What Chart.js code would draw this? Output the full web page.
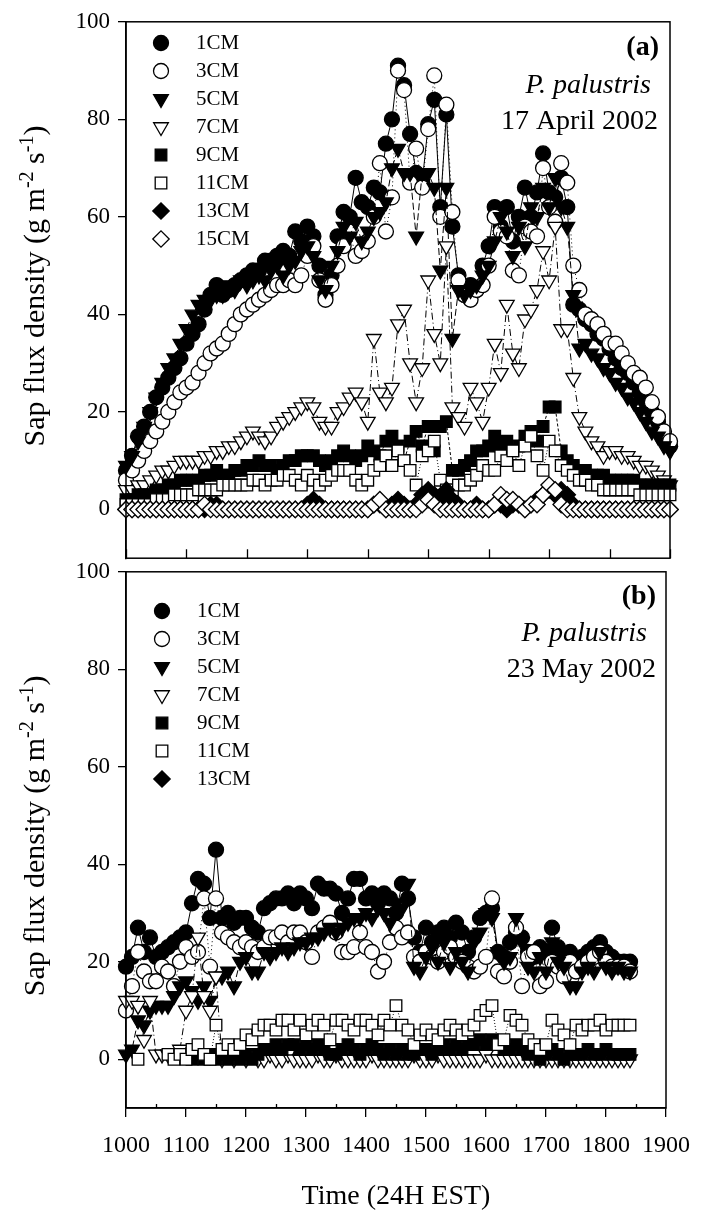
<!DOCTYPE html>
<html>
<head>
<meta charset="utf-8">
<script src="https://cdn.jsdelivr.net/npm/chart.js@4.4.1/dist/chart.umd.min.js"></script>
<style>
  html, body { margin: 0; padding: 0; background: #fff; }
  body { width: 704px; height: 1216px; position: relative; overflow: hidden; }
  canvas { position: absolute; left: 0; }
  #chartA { top: 0; }
  #chartB { top: 550px; }
</style>
</head>
<body>
<canvas id="chartA" width="704" height="580"></canvas>
<canvas id="chartB" width="704" height="666"></canvas>
<script>
// time stamps (24H EST)
const timesA = [
	1000, 1010, 1020, 1030, 1040, 1050, 1060, 1070, 1080, 1090,
	1100, 1110, 1120, 1130, 1140, 1150, 1160, 1170, 1180, 1190,
	1200, 1210, 1220, 1230, 1240, 1250, 1260, 1270, 1280, 1290,
	1300, 1310, 1320, 1330, 1340, 1350, 1360, 1370, 1380, 1390,
	1400, 1410, 1420, 1430, 1440, 1450, 1460, 1470, 1480, 1490,
	1500, 1510, 1520, 1530, 1540, 1550, 1560, 1570, 1580, 1590,
	1600, 1610, 1620, 1630, 1640, 1650, 1660, 1670, 1680, 1690,
	1700, 1710, 1720, 1730, 1740, 1750, 1760, 1770, 1780, 1790,
	1800, 1810, 1820, 1830, 1840, 1850, 1860, 1870, 1880, 1890,
	1900
];
const timesB = [
	1000, 1010, 1020, 1030, 1040, 1050, 1060, 1070, 1080, 1090,
	1100, 1110, 1120, 1130, 1140, 1150, 1160, 1170, 1180, 1190,
	1200, 1210, 1220, 1230, 1240, 1250, 1260, 1270, 1280, 1290,
	1300, 1310, 1320, 1330, 1340, 1350, 1360, 1370, 1380, 1390,
	1400, 1410, 1420, 1430, 1440, 1450, 1460, 1470, 1480, 1490,
	1500, 1510, 1520, 1530, 1540, 1550, 1560, 1570, 1580, 1590,
	1600, 1610, 1620, 1630, 1640, 1650, 1660, 1670, 1680, 1690,
	1700, 1710, 1720, 1730, 1740, 1750, 1760, 1770, 1780, 1790,
	1800, 1810, 1820, 1830, 1840
];
const xTicks = [1000, 1100, 1200, 1300, 1400, 1500, 1600, 1700, 1800, 1900];
const xMinor = [1050, 1150, 1250, 1350, 1450, 1550, 1650, 1750, 1850];
const yTicks = [0, 20, 40, 60, 80, 100];
const labelsA = ["1CM", "3CM", "5CM", "7CM", "9CM", "11CM", "13CM", "15CM"];
const labelsB = ["1CM", "3CM", "5CM", "7CM", "9CM", "11CM", "13CM"];

// (a) 17 April 2002
const a1 = [
	8, 11, 15, 17, 20, 23, 25, 27, 29, 31,
	34, 36, 38, 41, 44, 46, 44, 45, 46, 47,
	48, 49, 49, 51, 51, 52, 53, 52, 57, 55,
	58, 56, 50, 44, 48, 56, 61, 60, 68, 63,
	62, 66, 65, 75, 80, 91, 87, 77, 69, 67,
	79, 84, 62, 81, 58, 48, 44, 46, 45, 50,
	54, 62, 58, 62, 55, 60, 66, 60, 65, 73,
	65, 64, 68, 62, 42, 41, 39, 38, 36, 35,
	33, 31, 29, 28, 26, 24, 22, 20, 18, 15,
	13
];
const a3 = [
	6, 8, 10, 12, 14, 16, 18, 20, 22, 24,
	25, 26, 28, 30, 32, 33, 34, 36, 38, 40,
	41, 42, 43, 44, 45, 46, 46, 47, 46, 48,
	52, 54, 47, 43, 46, 50, 54, 57, 52, 53,
	55, 60, 71, 57, 64, 90, 86, 67, 74, 66,
	78, 89, 60, 83, 61, 47, 44, 43, 45, 46,
	50, 60, 57, 56, 49, 48, 58, 57, 56, 70,
	62, 59, 71, 67, 50, 45, 40, 39, 38, 36,
	34, 34, 32, 30, 28, 27, 25, 22, 19, 16,
	14
];
const a5 = [
	9, 11, 14, 17, 20, 23, 26, 29, 31, 34,
	37, 40, 42, 43, 43, 44, 44, 46, 45, 47,
	46, 47, 48, 47, 49, 50, 48, 50, 51, 53,
	54, 52, 47, 45, 50, 53, 58, 56, 59, 55,
	57, 60, 61, 63, 70, 74, 69, 69, 56, 69,
	69, 66, 49, 66, 35, 45, 44, 45, 46, 48,
	50, 55, 60, 57, 52, 58, 54, 62, 60, 66,
	62, 68, 62, 58, 44, 33, 34, 32, 31, 29,
	28, 26, 25, 23, 22, 20, 18, 16, 15, 13,
	12
];
const a7 = [
	4, 4, 5, 5, 6, 7, 8, 8, 9, 10,
	10, 10, 10, 11, 11, 12, 12, 13, 13, 14,
	15, 16, 15, 14, 15, 17, 18, 19, 20, 21,
	22, 21, 18, 17, 17, 20, 21, 23, 24, 22,
	18, 35, 24, 22, 25, 38, 41, 30, 22, 29,
	47, 36, 30, 54, 21, 19, 17, 25, 22, 18,
	25, 34, 28, 42, 32, 29, 39, 41, 45, 53,
	47, 58, 37, 37, 27, 19, 16, 14, 13, 11,
	12, 12, 11, 11, 10, 9, 9, 8, 7, 6,
	5
];
const a9 = [
	2, 2, 3, 3, 3, 4, 4, 5, 5, 6,
	6, 6, 6, 7, 7, 8, 7, 7, 8, 8,
	9, 9, 10, 9, 9, 8, 9, 10, 10, 11,
	11, 11, 10, 9, 10, 11, 12, 11, 10, 11,
	13, 12, 11, 14, 15, 13, 10, 14, 16, 13,
	17, 12, 17, 18, 8, 8, 9, 10, 12, 12,
	13, 15, 13, 14, 12, 13, 15, 16, 14, 17,
	21, 21, 12, 10, 9, 8, 8, 7, 7, 7,
	6, 6, 6, 6, 6, 5, 5, 5, 5, 5,
	5
];
const a11 = [
	1, 1, 1, 1, 1, 2, 2, 2, 3, 3,
	3, 3, 4, 4, 4, 4, 5, 5, 5, 5,
	5, 6, 6, 5, 6, 6, 7, 7, 6, 5,
	7, 6, 5, 6, 7, 8, 8, 8, 6, 5,
	6, 8, 9, 11, 9, 12, 10, 8, 5, 11,
	12, 14, 6, 4, 4, 5, 5, 6, 7, 9,
	8, 8, 11, 10, 12, 9, 13, 15, 11, 8,
	14, 12, 9, 8, 7, 6, 6, 5, 5, 4,
	4, 4, 4, 4, 4, 3, 3, 3, 3, 3,
	3
];
const a13 = [
	0, 0, 0, 0, 0, 0, 0, 0, 0, 0,
	0, 0, 0, 0, 1, 1, 0, 0, 0, 0,
	0, 0, 0, 0, 0, 0, 0, 0, 0, 0,
	1, 2, 1, 0, 0, 0, 0, 0, 0, 0,
	0, 1, 1, 0, 1, 2, 1, 0, 1, 3,
	4, 3, 2, 4, 2, 1, 0, 0, 1, 0,
	0, 1, 1, 0, 1, 1, 0, 1, 2, 3,
	4, 3, 4, 3, 1, 0, 0, 0, 0, 0,
	0, 0, 0, 0, 0, 0, 0, 0, 0, 0,
	0
];
const a15 = [
	0, 0, 0, 0, 0, 0, 0, 0, 0, 0,
	0, 0, 0, 1, 0, 0, 0, 0, 0, 0,
	0, 0, 0, 0, 0, 0, 0, 0, 0, 0,
	0, 0, 0, 0, 0, 0, 0, 0, 0, 0,
	0, 1, 2, 0, 0, 0, 0, 0, 0, 1,
	2, 1, 0, 0, 0, 0, 0, 0, 0, 0,
	0, 1, 3, 2, 2, 1, 0, 1, 1, 3,
	5, 4, 1, 0, 0, 0, 0, 0, 0, 0,
	0, 0, 0, 0, 0, 0, 0, 0, 0, 0,
	0
];

// (b) 23 May 2002
const b1 = [
	19, 21, 27, 22, 25, 21, 22, 23, 24, 25,
	26, 32, 37, 36, 29, 43, 29, 30, 28, 29,
	29, 27, 26, 31, 32, 33, 33, 34, 32, 34,
	33, 31, 36, 35, 35, 34, 30, 33, 37, 37,
	33, 34, 32, 34, 33, 30, 36, 33, 25, 22,
	27, 24, 26, 27, 25, 28, 26, 22, 25, 29,
	30, 31, 22, 21, 24, 26, 25, 22, 21, 23,
	22, 27, 23, 21, 22, 20, 21, 22, 23, 24,
	22, 21, 20, 20, 20
];
const b3 = [
	10, 15, 22, 18, 16, 16, 19, 18, 15, 20,
	23, 21, 22, 33, 19, 33, 26, 25, 24, 23,
	24, 23, 22, 23, 25, 25, 26, 24, 26, 26,
	24, 21, 26, 27, 28, 26, 22, 22, 23, 26,
	23, 22, 18, 20, 24, 27, 25, 26, 21, 20,
	22, 21, 20, 22, 23, 21, 20, 19, 18, 19,
	21, 33, 18, 17, 20, 27, 15, 21, 22, 15,
	16, 20, 19, 17, 20, 18, 19, 20, 21, 22,
	20, 19, 19, 19, 18
];
const b5 = [
	1, 2, 8, 7, 10, 11, 11, 11, 13, 15,
	16, 14, 12, 15, 12, 17, 17, 18, 15, 20,
	21, 18, 18, 22, 21, 22, 23, 22, 23, 24,
	24, 25, 25, 26, 27, 26, 27, 28, 29, 29,
	30, 29, 31, 30, 28, 32, 31, 36, 19, 18,
	21, 23, 20, 24, 19, 22, 20, 18, 24, 26,
	30, 29, 22, 20, 21, 29, 24, 19, 18, 21,
	18, 24, 20, 19, 15, 15, 18, 19, 18, 22,
	19, 18, 19, 18, 18
];
const b7 = [
	12, 12, 11, 4, 12, 1, 1, 1, 1, 2,
	10, 13, 25, 13, 10, 17, 0, 1, 0, 1,
	0, 1, 0, 0, 1, 0, 0, 1, 0, 0,
	0, 0, 1, 0, 0, 1, 0, 0, 0, 0,
	0, 1, 0, 0, 0, 0, 0, 0, 1, 0,
	0, 0, 1, 0, 0, 0, 0, 0, 0, 0,
	1, 0, 0, 0, 0, 0, 0, 0, 0, 0,
	0, 0, 0, 0, 0, 0, 0, 0, 0, 0,
	0, 0, 0, 0, 0
];
const b9 = [
	null, null, null, null, null, null, null, null, null, null,
	null, 0, 1, 0, 1, 0, 1, 0, 1, 0,
	1, 0, 1, 2, 2, 3, 2, 3, 3, 2,
	3, 2, 3, 2, 1, 1, 2, 3, 2, 1,
	2, 3, 2, 1, 2, 1, 2, 1, 1, 2,
	2, 1, 2, 3, 2, 3, 2, 3, 3, 4,
	3, 4, 3, 2, 2, 3, 2, 1, 2, 0,
	1, 2, 1, 0, 1, 1, 1, 2, 1, 1,
	2, 1, 1, 1, 1
];
const b11 = [
	null, null, 0, null, null, null, null, 1, 0, 1,
	0, 2, 3, 1, 0, 7, 2, 3, 2, 3,
	5, 4, 6, 7, 7, 6, 8, 8, 6, 8,
	5, 7, 8, 7, 4, 8, 8, 7, 6, 8,
	8, 7, 5, 8, 7, 11, 7, 6, 3, 5,
	6, 5, 4, 6, 7, 6, 5, 6, 7, 9,
	10, 11, 3, 4, 9, 8, 7, 4, 3, 2,
	3, 8, 6, 5, 3, 7, 6, 7, 7, 8,
	6, 7, 7, 7, 7
];
const b13 = [];

const FONT = "'Liberation Serif', 'Times New Roman', serif";
Chart.defaults.font.family = FONT;
Chart.defaults.color = "#000";

// marker look for each depth
const marks = [
	{ style: "circle", fill: "#000", r: 7.5, rot: 0, dash: [] },
	{ style: "circle", fill: "#fff", r: 7.5, rot: 0, dash: [1, 3] },
	{ style: "triangle", fill: "#000", r: 8.5, rot: 180, dash: [7, 3] },
	{ style: "triangle", fill: "#fff", r: 8.5, rot: 180, dash: [7, 3, 1, 3] },
	{ style: "rect", fill: "#000", r: 8.2, rot: 0, dash: [3, 2] },
	{ style: "rect", fill: "#fff", r: 8.2, rot: 0, dash: [1, 2] },
	{ style: "rectRot", fill: "#000", r: 8.2, rot: 0, dash: [] },
	{ style: "rectRot", fill: "#fff", r: 8.2, rot: 0, dash: [4, 3] },
];

function makeSet(label, times, vals, i) {
	const m = marks[i];
	return {
		label: label,
		data: vals.map((v, k) => ({ x: times[k], y: v })),
		borderColor: "#000",
		borderWidth: 1,
		borderDash: m.dash,
		pointStyle: m.style,
		pointRotation: m.rot,
		pointRadius: m.r,
		pointHoverRadius: m.r,
		pointBackgroundColor: m.fill,
		pointBorderColor: "#000",
		pointBorderWidth: 1.3,
		tension: 0,
		spanGaps: false,
		clip: false,
		order: 20 - i,
	};
}

function drawYTitle(ctx, cx, cy) {
	const parts = [
		["Sap flux density (g m", false],
		["-2", true],
		[" s", false],
		["-1", true],
		[")", false],
	];
	ctx.save();
	ctx.translate(cx, cy);
	ctx.rotate(-Math.PI / 2);
	ctx.fillStyle = "#000";
	ctx.textBaseline = "alphabetic";
	ctx.textAlign = "left";
	let total = 0;
	parts.forEach(([t, sup]) => {
		ctx.font = (sup ? "20px " : "30px ") + FONT;
		total += ctx.measureText(t).width;
	});
	let x = -total / 2;
	parts.forEach(([t, sup]) => {
		ctx.font = (sup ? "20px " : "30px ") + FONT;
		ctx.fillText(t, x, sup ? -11 : 0);
		x += ctx.measureText(t).width;
	});
	ctx.restore();
}

// frame, extra ticks, legend, notes
function deco(cfg) {
	return {
		id: "deco",
		afterDraw(chart) {
			const ctx = chart.ctx;
			const ca = chart.chartArea;
			const xs = chart.scales.x;
			ctx.save();
			ctx.strokeStyle = "#000";
			ctx.lineWidth = 1.5;
			ctx.setLineDash([]);
			ctx.strokeRect(ca.left, ca.top, ca.right - ca.left, ca.bottom - ca.top);

			ctx.lineWidth = 1.3;
			ctx.beginPath();
			cfg.inTicks.forEach((v) => {
				const px = Math.round(xs.getPixelForValue(v)) + 0.5;
				ctx.moveTo(px, ca.bottom);
				ctx.lineTo(px, ca.bottom - cfg.inLen);
			});
			ctx.stroke();

			// legend
			cfg.labels.forEach((lab, i) => {
				const m = marks[i];
				const y = cfg.legY + i * 28;
				ctx.fillStyle = m.fill;
				ctx.strokeStyle = "#000";
				ctx.lineWidth = 1.3;
				Chart.helpers.drawPoint(ctx, { pointStyle: m.style, rotation: m.rot, radius: m.r, borderWidth: 1.3 }, cfg.legX, y);
				ctx.fillStyle = "#000";
				ctx.font = "21px " + FONT;
				ctx.textAlign = "left";
				ctx.textBaseline = "middle";
				ctx.fillText(lab, cfg.legX + 35, y);
			});

			// panel notes
			ctx.textAlign = "right";
			ctx.textBaseline = "middle";
			ctx.fillStyle = "#000";
			cfg.notes.forEach((n) => {
				ctx.font = n.f + " 28px " + FONT;
				ctx.fillText(n.t, n.x, n.y);
			});
			ctx.restore();

			drawYTitle(ctx, 44, (ca.top + ca.bottom) / 2 - 4);
		},
	};
}

function yScale() {
	return {
		min: -10,
		max: 100,
		afterBuildTicks: (s) => { s.ticks = yTicks.map((v) => ({ value: v })); },
		afterFit: (s) => { s.width = 126; },
		grid: { drawOnChartArea: false, tickLength: 8, color: "#000", lineWidth: 1.3 },
		border: { color: "#000", width: 1.5 },
		ticks: { font: { size: 23 }, padding: 8, color: "#000" },
	};
}

const base = {
	responsive: false,
	animation: false,
	devicePixelRatio: 1,
	events: [],
	plugins: { legend: { display: false }, tooltip: { enabled: false } },
};

new Chart(document.getElementById("chartA"), {
	type: "line",
	data: {
		datasets: [
			makeSet(labelsA[0], timesA, a1, 0),
			makeSet(labelsA[1], timesA, a3, 1),
			makeSet(labelsA[2], timesA, a5, 2),
			makeSet(labelsA[3], timesA, a7, 3),
			makeSet(labelsA[4], timesA, a9, 4),
			makeSet(labelsA[5], timesA, a11, 5),
			makeSet(labelsA[6], timesA, a13, 6),
			makeSet(labelsA[7], timesA, a15, 7),
		],
	},
	options: Object.assign({}, base, {
		layout: { autoPadding: false, padding: { top: 21, right: 34, bottom: 0, left: 0 } },
		scales: {
			x: {
				type: "linear",
				min: 1000,
				max: 1900,
				afterBuildTicks: (s) => { s.ticks = xTicks.map((v) => ({ value: v })); },
				afterFit: (s) => { s.height = 15; },
				grid: { display: false },
				border: { display: false },
				ticks: { display: false },
			},
			y: yScale(),
		},
	}),
	plugins: [deco({
		inTicks: xTicks, inLen: 9,
		labels: labelsA, legX: 161, legY: 43,
		notes: [
			{ t: "(a)", f: "bold", x: 659, y: 48 },
			{ t: "P. palustris", f: "italic", x: 651, y: 86 },
			{ t: "17 April 2002", f: "normal", x: 658, y: 122 },
		],
	})],
});

new Chart(document.getElementById("chartB"), {
	type: "line",
	data: {
		datasets: [
			makeSet(labelsB[0], timesB, b1, 0),
			makeSet(labelsB[1], timesB, b3, 1),
			makeSet(labelsB[2], timesB, b5, 2),
			makeSet(labelsB[3], timesB, b7, 3),
			makeSet(labelsB[4], timesB, b9, 4),
			makeSet(labelsB[5], timesB, b11, 5),
			makeSet(labelsB[6], timesB, b13, 6),
		],
	},
	options: Object.assign({}, base, {
		layout: { autoPadding: false, padding: { top: 15, right: 34, bottom: 0, left: 0 } },
		scales: {
			x: {
				type: "linear",
				min: 1000,
				max: 1900,
				afterBuildTicks: (s) => { s.ticks = xTicks.map((v) => ({ value: v })); },
				afterFit: (s) => { s.height = 108; },
				grid: { drawOnChartArea: false, tickLength: 9, color: "#000", lineWidth: 1.3 },
				border: { color: "#000", width: 1.5 },
				ticks: {
					font: { size: 24 }, padding: 14, maxRotation: 0, autoSkip: false, color: "#000",
					callback: (v) => String(v),
				},
				title: { display: true, text: "Time (24H EST)", font: { size: 28 }, padding: { top: 0, bottom: 3 }, color: "#000" },
			},
			y: yScale(),
		},
	}),
	plugins: [deco({
		inTicks: xMinor, inLen: 4,
		labels: labelsB, legX: 162, legY: 61,
		notes: [
			{ t: "(b)", f: "bold", x: 656, y: 47 },
			{ t: "P. palustris", f: "italic", x: 647, y: 84 },
			{ t: "23 May 2002", f: "normal", x: 656, y: 120 },
		],
	})],
});
</script>
</body>
</html>
